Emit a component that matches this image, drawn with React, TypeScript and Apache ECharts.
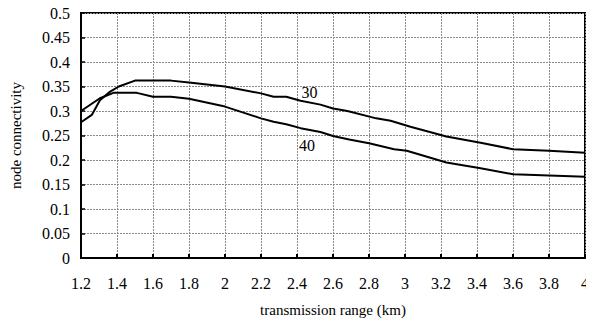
import React, { useEffect, useRef } from "react";
import * as echarts from "echarts";

// transmission range (km) / node connectivity for 30 and 40 nodes
const range30 = [1.2, 1.26, 1.305, 1.36, 1.41, 1.5, 1.7, 1.8, 2.0, 2.2, 2.27, 2.34, 2.42, 2.53, 2.6, 2.68, 2.84, 2.92, 3.03, 3.23, 3.42, 3.6, 3.8, 4.0];
const conn30 = [0.277, 0.292, 0.322, 0.339, 0.35, 0.362, 0.362, 0.358, 0.35, 0.336, 0.329, 0.329, 0.321, 0.313, 0.305, 0.3, 0.285, 0.28, 0.268, 0.248, 0.235, 0.222, 0.219, 0.215];

const range40 = [1.2, 1.305, 1.38, 1.51, 1.6, 1.7, 1.8, 2.0, 2.2, 2.27, 2.34, 2.42, 2.53, 2.6, 2.69, 2.8, 2.94, 3.01, 3.23, 3.42, 3.6, 4.0];
const conn40 = [0.3, 0.326, 0.337, 0.337, 0.329, 0.329, 0.325, 0.309, 0.285, 0.278, 0.273, 0.265, 0.257, 0.249, 0.242, 0.234, 0.222, 0.219, 0.195, 0.183, 0.171, 0.166];

const seriesNames = ["30", "40"];
// where each curve's name is written on the plot
const nameAnchors = [
  [2.47, 0.337],
  [2.455, 0.229],
];

const FONT = "Liberation Serif";

export default function App() {
  const ref = useRef<HTMLDivElement>(null);

  useEffect(() => {
    if (!ref.current) return;
    const chart = echarts.init(ref.current, null, { renderer: "svg" });
    const toPairs = (xs: number[], ys: number[]) => xs.map((x, i) => [x, ys[i]]);
    const gridLine = { show: true, lineStyle: { color: "#8a8a8a", width: 1, type: [2, 1] as any } };

    chart.setOption({
      animation: false,
      backgroundColor: "#ffffff",
      textStyle: { fontFamily: FONT },
      grid: {
        left: 81,
        right: 9,
        top: 13,
        bottom: 66,
        show: true,
        borderColor: "#000",
        borderWidth: 2,
        backgroundColor: "transparent",
      },
      xAxis: {
        type: "value",
        min: 1.2,
        max: 4,
        interval: 0.2,
        name: "transmission range (km)",
        nameLocation: "middle",
        nameGap: 44,
        nameTextStyle: { fontFamily: FONT, fontSize: 15, color: "#000" },
        axisLine: { show: true, lineStyle: { color: "#000", width: 2 } },
        axisTick: { show: true, inside: true, length: 4, lineStyle: { color: "#000", width: 2 } },
        axisLabel: {
          fontFamily: FONT,
          fontSize: 16,
          color: "#000",
          margin: 17,
          formatter: (v: number) => String(Math.round(v * 10) / 10),
        },
        splitLine: gridLine,
      },
      yAxis: {
        type: "value",
        min: 0,
        max: 0.5,
        interval: 0.05,
        name: "node connectivity",
        nameLocation: "middle",
        nameGap: 58,
        nameTextStyle: { fontFamily: FONT, fontSize: 15, color: "#000" },
        axisLine: { show: true, lineStyle: { color: "#000", width: 2 } },
        axisTick: { show: true, inside: true, length: 4, lineStyle: { color: "#000", width: 1.5 } },
        axisLabel: {
          fontFamily: FONT,
          fontSize: 16,
          color: "#000",
          margin: 11,
          formatter: (v: number) => String(Math.round(v * 100) / 100),
        },
        splitLine: gridLine,
      },
      series: [
        {
          name: seriesNames[0],
          type: "line",
          data: toPairs(range30, conn30),
          showSymbol: false,
          lineStyle: { color: "#000", width: 2 },
          z: 3,
        },
        {
          name: seriesNames[1],
          type: "line",
          data: toPairs(range40, conn40),
          showSymbol: false,
          lineStyle: { color: "#000", width: 2 },
          z: 3,
        },
        {
          type: "scatter",
          symbolSize: 0,
          itemStyle: { opacity: 1, color: "#000" },
          data: nameAnchors.map((p, i) => ({ value: p, name: seriesNames[i] })),
          label: {
            show: true,
            position: "inside",
            formatter: (p: any) => p.name,
            fontFamily: FONT,
            fontSize: 16,
            color: "#000",
            textBorderWidth: 0,
          },
          z: 4,
        },
      ],
    });
    return () => chart.dispose();
  }, []);

  return <div ref={ref} style={{ width: 594, height: 324, marginLeft: -8, marginTop: -8 }} />;
}
